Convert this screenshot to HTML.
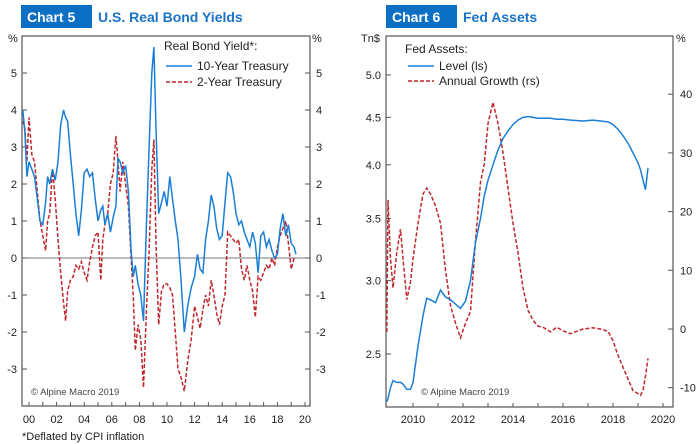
<!DOCTYPE html>
<html><head><meta charset="utf-8"><style>
body{margin:0;background:#fff;width:700px;height:444px;overflow:hidden;font-family:"Liberation Sans",sans-serif}
svg{display:block}
text{font-family:"Liberation Sans",sans-serif;fill:#222}
</style></head><body>
<svg id="c" width="700" height="444">
<rect x="21" y="5" width="71" height="23" fill="#0b6fc4"/>
<text x="27" y="22" font-size="14" font-weight="bold" style="fill:#fff">Chart 5</text>
<text x="98" y="22" font-size="14" font-weight="bold" style="fill:#1a73c6">U.S. Real Bond Yields</text>
<rect x="386" y="5" width="71" height="23" fill="#0b6fc4"/>
<text x="392" y="22" font-size="14" font-weight="bold" style="fill:#fff">Chart 6</text>
<text x="463" y="22" font-size="14" font-weight="bold" style="fill:#1a73c6">Fed Assets</text>
<g id="g5"></g><g id="g6"></g>
<text x="22" y="440" font-size="11">*Deflated by CPI inflation</text>
</svg>
<script>
// Chart 5 data
const years5 = [1999.55,1999.7,1999.85,2000.0,2000.2,2000.4,2000.6,2000.8,2001.0,2001.2,2001.35,2001.5,2001.7,2001.9,2002.1,2002.3,2002.5,2002.65,2002.8,2003.0,2003.2,2003.4,2003.6,2003.8,2004.0,2004.2,2004.4,2004.6,2004.8,2005.0,2005.2,2005.35,2005.5,2005.7,2005.9,2006.1,2006.3,2006.45,2006.6,2006.8,2007.0,2007.2,2007.4,2007.55,2007.7,2007.9,2008.1,2008.3,2008.5,2008.7,2008.9,2009.05,2009.2,2009.4,2009.6,2009.8,2010.0,2010.2,2010.4,2010.6,2010.8,2011.0,2011.25,2011.5,2011.75,2012.0,2012.2,2012.4,2012.6,2012.8,2013.0,2013.2,2013.4,2013.6,2013.8,2014.0,2014.2,2014.4,2014.6,2014.8,2015.0,2015.2,2015.4,2015.6,2015.8,2016.0,2016.2,2016.4,2016.6,2016.8,2017.0,2017.2,2017.4,2017.6,2017.8,2018.0,2018.2,2018.4,2018.6,2018.8,2019.0,2019.2,2019.35];
const tenYear = [4.0,3.4,2.2,2.6,2.4,2.2,1.6,1.0,0.9,1.5,2.2,2.0,2.4,2.1,2.6,3.6,4.0,3.8,3.7,2.8,2.0,1.2,0.6,1.3,2.3,2.4,2.2,2.3,1.6,1.0,1.3,1.4,0.9,1.2,0.7,1.1,1.4,2.7,2.6,2.3,2.5,1.8,0.2,-0.5,-0.2,-0.7,-1.0,-1.7,0.8,3.0,5.0,5.7,3.5,1.2,1.5,1.8,1.4,2.2,1.6,1.0,0.5,-0.5,-2.0,-1.3,-0.8,-0.5,0.1,-0.3,-0.4,0.5,1.0,1.7,1.4,0.8,0.5,0.6,1.5,2.3,2.2,1.8,1.2,0.9,1.0,0.7,0.5,0.3,0.7,0.4,-0.4,0.6,0.7,0.3,0.5,0.2,0.0,0.1,0.8,1.2,0.6,0.9,0.4,0.3,0.1];
const twoYear = [3.7,3.5,2.6,3.8,2.8,2.6,1.8,1.0,0.6,0.2,1.0,1.2,2.4,1.6,0.5,-0.4,-1.2,-1.7,-0.9,-0.6,-0.5,-0.2,-0.3,-0.1,-0.4,-0.6,-0.1,0.3,0.6,0.7,-0.6,0.5,0.9,1.2,2.0,2.3,3.3,2.6,1.8,2.6,2.0,1.4,0.0,-1.0,-2.5,-1.8,-2.2,-3.5,-1.5,0.2,2.4,3.2,0.4,-1.8,-0.9,-0.7,-0.7,-0.8,-1.0,-2.0,-3.0,-3.2,-3.6,-2.8,-2.2,-1.3,-1.6,-1.9,-1.4,-1.0,-1.3,-0.6,-1.0,-1.5,-1.8,-1.3,-1.0,0.7,0.6,0.5,0.4,0.5,-0.3,-0.6,-0.2,-0.6,-0.9,-1.6,-0.5,-0.6,-0.4,-0.2,-0.3,0.0,-0.2,0.3,0.6,0.8,1.0,0.4,-0.3,0.0];
const yTicks5 = [-3,-2,-1,0,1,2,3,4,5];
const xTicks5 = ["00","02","04","06","08","10","12","14","16","18","20"];
// Chart 6 data
const years6 = [2008.95,2009.0,2009.1,2009.2,2009.35,2009.5,2009.6,2009.75,2009.9,2010.0,2010.2,2010.4,2010.55,2010.7,2010.9,2011.1,2011.3,2011.5,2011.7,2011.9,2012.1,2012.3,2012.5,2012.7,2012.85,2013.0,2013.2,2013.4,2013.6,2013.8,2014.0,2014.2,2014.4,2014.6,2014.8,2015.0,2015.2,2015.5,2015.75,2016.0,2016.3,2016.8,2017.2,2017.5,2017.8,2018.0,2018.2,2018.4,2018.6,2018.8,2019.0,2019.1,2019.2,2019.3,2019.4];
const level = [2.22,2.24,2.3,2.34,2.33,2.33,2.32,2.29,2.29,2.33,2.55,2.75,2.87,2.86,2.84,2.93,2.88,2.86,2.83,2.80,2.85,3.0,3.3,3.5,3.7,3.85,4.0,4.15,4.27,4.35,4.42,4.47,4.5,4.51,4.5,4.49,4.49,4.49,4.48,4.48,4.47,4.46,4.47,4.46,4.45,4.42,4.37,4.3,4.22,4.12,4.02,3.95,3.85,3.76,3.97];
const growth = [-0.5,22,12,7,13,17,12,5,8,12,18,23,24,23,21,18,10,4,1,-1.5,1,3,15,25,28,35,38.6,35,30,24,18,13,7,3.2,1.5,0.5,0.3,-0.5,0.3,-0.3,-0.8,0,0.2,0,-0.4,-2,-4.5,-6.5,-8.5,-10.5,-11,-11.3,-10.5,-8,-5];
const leftTicks6 = [2.5,3.0,3.5,4.0,4.5,5.0];
const rightTicks6 = [-10,0,10,20,30,40];
const xTicks6 = [2010,2012,2014,2016,2018,2020];

const NS="http://www.w3.org/2000/svg";
function mk(parent,tag,attrs){const e=document.createElementNS(NS,tag);for(const k in attrs)e.setAttribute(k,attrs[k]);parent.appendChild(e);return e;}

// ---- Chart 5 ----
const g5=document.getElementById('g5');
const L5=22,R5=310,T5=36,B5=406;
const x5=y=>29+(y-2000)*13.8;
const y5=v=>258-v*37;
let e;
e=mk(g5,'rect',{x:L5,y:T5,width:R5-L5,height:B5-T5,fill:'none',stroke:'#555','stroke-width':1.2});


e=mk(g5,'line',{x1:L5,x2:R5,y1:y5(0),y2:y5(0),stroke:'#777','stroke-width':1});


yTicks5.forEach(v=>{
  mk(g5,'line',{x1:L5,x2:L5+5,y1:y5(v),y2:y5(v),stroke:'#555'});
  mk(g5,'line',{x1:R5-5,x2:R5,y1:y5(v),y2:y5(v),stroke:'#555'});
  e=mk(g5,'text',{x:17,y:y5(v)+4,'font-size':11,'text-anchor':'end'});e.textContent=v;
  
  
  e=mk(g5,'text',{x:316,y:y5(v)+4,'font-size':11});e.textContent=v;
  
  
});
e=mk(g5,'text',{x:8,y:42,'font-size':11});e.textContent='%';


e=mk(g5,'text',{x:312,y:42,'font-size':11});e.textContent='%';


xTicks5.forEach((t,i)=>{
  const yr=2000+i*2;
  for(const d of [0,1]){ if(yr+d<=2020) mk(g5,'line',{x1:x5(yr+d),x2:x5(yr+d),y1:B5-4,y2:B5,stroke:'#555'}); }
  e=mk(g5,'text',{x:x5(yr),y:423,'font-size':11,'text-anchor':'middle'});e.textContent=t;
  
  
});
function path(xs,ys,fx,fy){return xs.map((x,i)=>(i?'L':'M')+fx(x).toFixed(1)+','+fy(ys[i]).toFixed(1)).join('');}
e=mk(g5,'path',{d:path(years5,twoYear,x5,y5),fill:'none',stroke:'#c0272d','stroke-width':1.5,'stroke-dasharray':'4,2'});


e=mk(g5,'path',{d:path(years5,tenYear,x5,y5),fill:'none',stroke:'#1a7fd4','stroke-width':1.5});


e=mk(g5,'text',{x:164,y:50,'font-size':12});e.textContent='Real Bond Yield*:';


e=mk(g5,'line',{x1:166,x2:192,y1:66,y2:66,stroke:'#1a7fd4','stroke-width':1.5});


e=mk(g5,'text',{x:197,y:70,'font-size':12});e.textContent='10-Year Treasury';


e=mk(g5,'line',{x1:166,x2:192,y1:82,y2:82,stroke:'#c0272d','stroke-width':1.5,'stroke-dasharray':'4,2'});


e=mk(g5,'text',{x:197,y:86,'font-size':12});e.textContent='2-Year Treasury';


e=mk(g5,'text',{x:31,y:395,'font-size':9.5,style:'fill:#444'});e.textContent='© Alpine Macro 2019';



// ---- Chart 6 ----
const g6=document.getElementById('g6');
const L6=386,R6=673,T6=36,B6=407;
const x6=y=>413+(y-2010)*25;
const yl6=v=>354-(Math.log(v)-Math.log(2.5))*402.6;
const yr6=v=>329-v*5.87;
e=mk(g6,'rect',{x:L6,y:T6,width:R6-L6,height:B6-T6,fill:'none',stroke:'#555','stroke-width':1.2});


leftTicks6.forEach(v=>{
  mk(g6,'line',{x1:L6,x2:L6+5,y1:yl6(v),y2:yl6(v),stroke:'#555'});
  e=mk(g6,'text',{x:381,y:yl6(v)+4,'font-size':11,'text-anchor':'end'});e.textContent=v.toFixed(1);
  
  
});
rightTicks6.forEach(v=>{
  mk(g6,'line',{x1:R6-5,x2:R6,y1:yr6(v),y2:yr6(v),stroke:'#555'});
  e=mk(g6,'text',{x:680,y:yr6(v)+4,'font-size':11});e.textContent=v;
  
  
});
e=mk(g6,'text',{x:361,y:42,'font-size':11});e.textContent='Tn$';


e=mk(g6,'text',{x:676,y:42,'font-size':11});e.textContent='%';


for(let yr=2010;yr<=2020;yr++) mk(g6,'line',{x1:x6(yr),x2:x6(yr),y1:B6-4,y2:B6,stroke:'#555'});
xTicks6.forEach(t=>{
  e=mk(g6,'text',{x:x6(t),y:423,'font-size':11,'text-anchor':'middle'});e.textContent=t;
  
  
});
e=mk(g6,'path',{d:path(years6,growth,x6,yr6),fill:'none',stroke:'#c0272d','stroke-width':1.5,'stroke-dasharray':'4,2'});


e=mk(g6,'path',{d:path(years6,level,x6,yl6),fill:'none',stroke:'#1a7fd4','stroke-width':1.5});


e=mk(g6,'text',{x:405,y:53,'font-size':12});e.textContent='Fed Assets:';


e=mk(g6,'line',{x1:408,x2:434,y1:66,y2:66,stroke:'#1a7fd4','stroke-width':1.5});


e=mk(g6,'text',{x:439,y:70,'font-size':12});e.textContent='Level (ls)';


e=mk(g6,'line',{x1:408,x2:434,y1:81,y2:81,stroke:'#c0272d','stroke-width':1.5,'stroke-dasharray':'4,2'});


e=mk(g6,'text',{x:439,y:85,'font-size':12});e.textContent='Annual Growth (rs)';


e=mk(g6,'text',{x:421,y:395,'font-size':9.5,style:'fill:#444'});e.textContent='© Alpine Macro 2019';


</script>
</body></html>
